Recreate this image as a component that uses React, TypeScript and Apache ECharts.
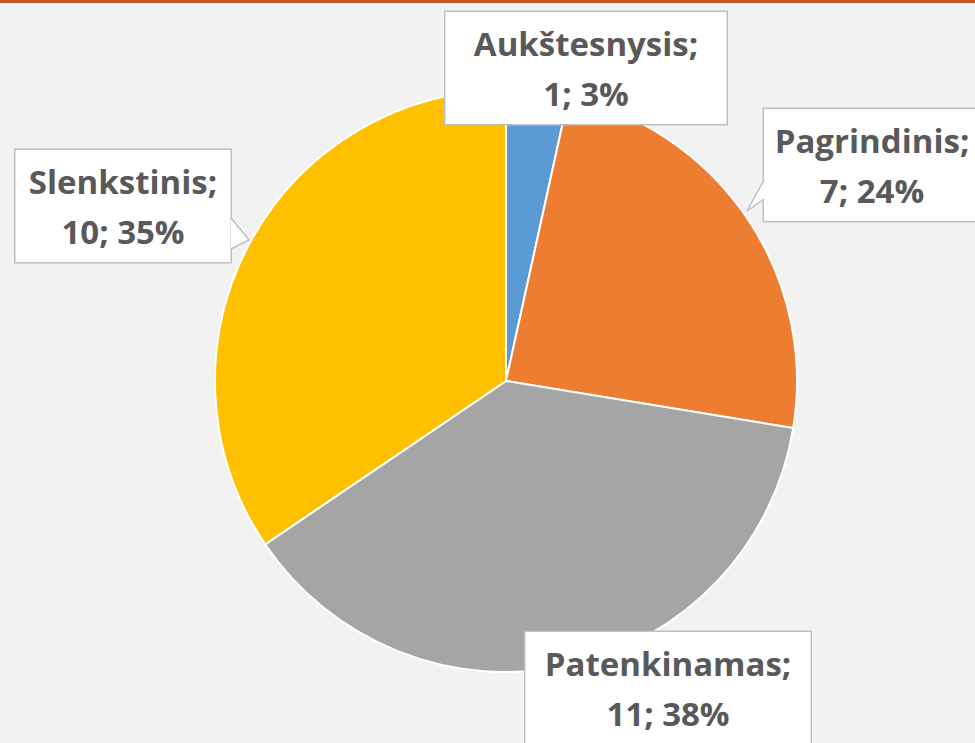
import React, { useEffect, useRef } from "react";
import * as echarts from "echarts";

const categories = ["Aukštesnysis", "Pagrindinis", "Patenkinamas", "Slenkstinis"];
const values = [1, 7, 11, 10];
const colors = ["#5b9bd5", "#ed7d31", "#a5a5a5", "#ffc000"];
// label box layout: center x, center y, width
const labelCenters = [
  [586, 68],
  [872, 165],
  [668, 688],
  [123, 206],
];
const labelWidths = [281, 216, 285, 215];

export default function App() {
  const ref = useRef<HTMLDivElement>(null);
  useEffect(() => {
    document.body.style.margin = "0";
    const chart = echarts.init(ref.current!, null, { renderer: "svg" });
    const gray = "#bfbfbf";
    chart.setOption({
      animation: false,
      backgroundColor: "#f2f2f2",
      graphic: [
        { type: "rect", left: 0, top: 0, z: 100, shape: { width: 975, height: 3 }, style: { fill: "#c0582a" } },
        // callout pointer (Pagrindinis)
        { type: "polygon", z: 100, shape: { points: [[764, 180], [747, 211], [764, 199]] }, style: { fill: "#fff" } },
        { type: "polyline", z: 100, shape: { points: [[764, 180], [747, 211], [764, 199]] }, style: { stroke: gray, lineWidth: 1.5, fill: null } },
        // callout pointer (Slenkstinis)
        { type: "polygon", z: 100, shape: { points: [[231, 218], [249, 240], [231, 249]] }, style: { fill: "#fff" } },
        { type: "polyline", z: 100, shape: { points: [[231, 218], [249, 240], [231, 249]] }, style: { stroke: gray, lineWidth: 1.5, fill: null } },
      ],
      series: [
        {
          type: "pie",
          center: [506, 381],
          radius: 291,
          startAngle: 90,
          clockwise: true,
          percentPrecision: 0,
          avoidLabelOverlap: false,
          itemStyle: { borderColor: "#fff", borderWidth: 2 },
          labelLine: { show: false },
          label: {
            show: true,
            position: "outside",
            formatter: "{b};\n{c}; {d}%",
            fontFamily: "'Open Sans', sans-serif",
            fontWeight: "bold",
            fontSize: 33,
            lineHeight: 50,
            color: "#595959",
            align: "center",
            backgroundColor: "#ffffff",
            borderColor: gray,
            borderWidth: 1.5,
            padding: [6, 0],
          },
          labelLayout: (p: any) => ({
            x: labelCenters[p.dataIndex][0],
            y: labelCenters[p.dataIndex][1],
            align: "center",
            verticalAlign: "middle",
          }),
          data: categories.map((name, i) => ({
            name,
            value: values[i],
            itemStyle: { color: colors[i] },
            label: { width: labelWidths[i] },
          })),
        },
      ],
    });
    return () => chart.dispose();
  }, []);
  return <div ref={ref} style={{ width: 975, height: 743 }} />;
}
